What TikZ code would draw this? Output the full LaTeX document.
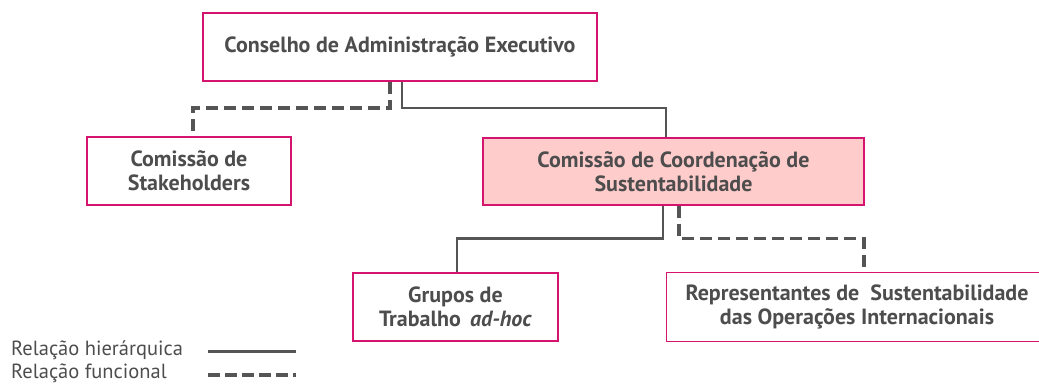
\documentclass[tikz,border=0pt]{standalone}
\usepackage{fontspec}
\setmainfont{PT Sans}
\usetikzlibrary{calc}
\definecolor{boxpink}{HTML}{D4146E}
\definecolor{boxfill}{HTML}{FFCCCC}
\definecolor{linegray}{HTML}{555555}
\definecolor{textgray}{HTML}{4D4D4D}
\tikzset{
	orgbox/.style={draw=boxpink,line width=1.4pt,fill=white,inner sep=0pt,align=center,
		text=textgray,font=\fontsize{22}{24}\selectfont\bfseries},
	legtext/.style={anchor=west,inner sep=0pt,text=textgray,font=\fontsize{20.5}{24}\selectfont},
	hier/.style={draw=linegray,line width=2.4pt},
	func/.style={draw=linegray,line width=3.6pt,dash pattern=on 12pt off 6pt}
}
\begin{document}
\begin{tikzpicture}[x=1pt,y=-1pt]
	\useasboundingbox (0,0) rectangle (1039,383);
	% boxes
	\node[orgbox,minimum width=394,minimum height=68] (cae) at (400,47) {Conselho de Administração Executivo};
	\node[orgbox,minimum width=204,minimum height=68] (stk) at (189,171) {Comissão de\\Stakeholders};
	\node[orgbox,fill=boxfill,minimum width=381,minimum height=67] (ccs) at (673.5,171.5) {Comissão de Coordenação de\\Sustentabilidade};
	\node[orgbox,minimum width=205,minimum height=68] (grp) at (455.5,307) {Grupos de\\Trabalho \,\textit{ad-hoc}};
	\node[orgbox,draw=none,minimum width=380,minimum height=68] (rep) at (857,307) {Representantes de \ Sustentabilidade\\das Operações Internacionais};
	\draw[boxpink,line width=1.4pt] (rep.north east) -- (rep.north west) -- (rep.south west) -- (rep.south east);
	% levels
	\coordinate (lvla) at (0,108);
	\coordinate (lvlb) at (0,238.5);
	% connectors
	\draw[func] ([xshift=-10]cae.south) -- ([xshift=-10]cae.south |- lvla) -| ([xshift=4]stk.north);
	\draw[hier] ([xshift=2]cae.south) -- ([xshift=2]cae.south |- lvla) -| ([xshift=-7.5]ccs.north);
	\draw[hier] ([xshift=-10.5]ccs.south) -- ([xshift=-10.5]ccs.south |- lvlb) -| ([xshift=1.5]grp.north);
	\draw[func] ([xshift=5.5]ccs.south) -- ([xshift=5.5]ccs.south |- lvlb) -| ([xshift=7]rep.north);
	% legend
	\node[legtext] (lgh) at (11,350) {Relação hierárquica};
	\node[legtext] (lgf) at (11,373) {Relação funcional};
	\coordinate (lga) at (208,351);
	\coordinate (lgb) at (296,351);
	\coordinate (lgc) at (208,375);
	\coordinate (lgd) at (296,375);
	\draw[hier,line width=3pt] (lga) -- (lgb);
	\draw[func,line width=3.4pt,dash pattern=on 12pt off 5pt] (lgc) -- (lgd);
\end{tikzpicture}
\end{document}
